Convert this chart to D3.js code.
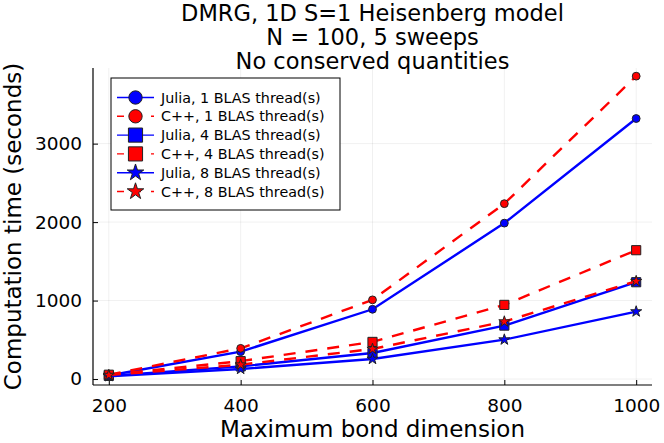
<!DOCTYPE html>
<html>
<head>
<meta charset="utf-8">
<script src="https://cdn.jsdelivr.net/npm/d3@7"></script>
<style>
  html, body { margin: 0; padding: 0; background: #fff; }
  svg { display: block; font-family: "DejaVu Sans", sans-serif; }
</style>
</head>
<body>
<div id="chart"></div>
<script>
const WIDTH = 664, HEIGHT = 443;

// data
const bondDims   = [200, 400, 600, 800, 1000];
const juliaOne   = [45, 349, 889, 1987, 3320];
const cppOne     = [55, 391, 1009, 2235, 3860];
const juliaFour  = [40, 161, 332, 681, 1234];
const cppFour    = [55, 228, 473, 945, 1642];
const juliaEight = [35, 128, 255, 502, 860];
const cppEight   = [50, 183, 383, 732, 1247];
const xTicks = [200, 400, 600, 800, 1000];
const yTicks = [0, 1000, 2000, 3000];
const titleLines = ["DMRG, 1D S=1 Heisenberg model", "N = 100, 5 sweeps", "No conserved quantities"];

const series = [
  { name: "Julia, 1 BLAS thread(s)", values: juliaOne,   color: "#0000ff", dash: null,    sym: "circle" },
  { name: "C++, 1 BLAS thread(s)",   values: cppOne,     color: "#ff0000", dash: "12,10", sym: "circle" },
  { name: "Julia, 4 BLAS thread(s)", values: juliaFour,  color: "#0000ff", dash: null,    sym: "square" },
  { name: "C++, 4 BLAS thread(s)",   values: cppFour,    color: "#ff0000", dash: "12,10", sym: "square" },
  { name: "Julia, 8 BLAS thread(s)", values: juliaEight, color: "#0000ff", dash: null,    sym: "star" },
  { name: "C++, 8 BLAS thread(s)",   values: cppEight,   color: "#ff0000", dash: "12,10", sym: "star" },
];

const M = { left: 93, right: 12, top: 68, bottom: 58 };
const x = d3.scaleLinear().domain([176, 1024]).range([M.left, WIDTH - M.right]);
const y = d3.scaleLinear().domain([-76, 3964]).range([HEIGHT - M.bottom, M.top]);

const svg = d3.select("#chart").append("svg")
  .attr("width", WIDTH).attr("height", HEIGHT);

// grid
const grid = svg.append("g");
grid.selectAll(".gx").data(xTicks).enter().append("line")
  .attr("x1", d => x(d)).attr("x2", d => x(d))
  .attr("y1", M.top).attr("y2", HEIGHT - M.bottom)
  .attr("stroke", "#000").attr("stroke-opacity", 0.1).attr("stroke-width", 0.6);
grid.selectAll(".gy").data(yTicks).enter().append("line")
  .attr("x1", M.left).attr("x2", WIDTH - M.right)
  .attr("y1", d => y(d)).attr("y2", d => y(d))
  .attr("stroke", "#000").attr("stroke-opacity", 0.1).attr("stroke-width", 0.6);

// axes (ticks point inward, like Plots.jl)
const xAxis = svg.append("g")
  .attr("transform", `translate(0,${HEIGHT - M.bottom})`)
  .call(d3.axisBottom(x).tickValues(xTicks).tickFormat(d3.format("d"))
    .tickSizeInner(-5).tickSizeOuter(0).tickPadding(14));
const yAxis = svg.append("g")
  .attr("transform", `translate(${M.left},0)`)
  .call(d3.axisLeft(y).tickValues(yTicks).tickFormat(d3.format("d"))
    .tickSizeInner(-5).tickSizeOuter(0).tickPadding(11));
[xAxis, yAxis].forEach(a => {
  a.select(".domain").attr("stroke", "#000").attr("stroke-width", 1.2);
  a.selectAll(".tick line").attr("stroke", "#000").attr("stroke-width", 1);
  a.selectAll(".tick text").attr("font-family", "DejaVu Sans").attr("font-size", 18.5).attr("fill", "#000");
});
yAxis.select(".domain").attr("d", `M0,${HEIGHT - M.bottom}V${M.top}`);
xAxis.select(".domain").attr("d", `M${M.left},0H${WIDTH - M.right}`);

// series
const line = d3.line().x((d, i) => x(bondDims[i])).y(d => y(d));
const symType = { circle: d3.symbolCircle, square: d3.symbolSquare, star: d3.symbolStar };
const plotSize = { circle: 48, square: 84, star: 38 };
const legendSize = { circle: 140, square: 200, star: 85 };

series.forEach(s => {
  const g = svg.append("g");
  g.append("path").datum(s.values)
    .attr("d", line).attr("fill", "none")
    .attr("stroke", s.color).attr("stroke-width", 2.4)
    .attr("stroke-dasharray", s.dash);
  g.selectAll("path.m").data(s.values).enter().append("path")
    .attr("class", "m")
    .attr("transform", (d, i) => `translate(${x(bondDims[i])},${y(d)})`)
    .attr("d", d3.symbol().type(symType[s.sym]).size(plotSize[s.sym]))
    .attr("fill", s.color).attr("stroke", "#222").attr("stroke-width", 1);
});

// legend
const lg = svg.append("g");
lg.append("rect").attr("x", 111).attr("y", 78).attr("width", 229).attr("height", 132)
  .attr("fill", "#fff").attr("stroke", "#000").attr("stroke-width", 1);
series.forEach((s, i) => {
  const cy = 97.5 + i * 18.8;
  lg.append("line").attr("x1", 117).attr("x2", 154).attr("y1", cy).attr("y2", cy)
    .attr("stroke", s.color).attr("stroke-width", 1.4)
    .attr("stroke-dasharray", s.dash ? "7,10" : null);
  lg.append("path").attr("transform", `translate(135.5,${cy})`)
    .attr("d", d3.symbol().type(symType[s.sym]).size(legendSize[s.sym]))
    .attr("fill", s.color).attr("stroke", "#222").attr("stroke-width", 1);
  lg.append("text").attr("x", 161).attr("y", cy + 5)
    .attr("font-size", 14.3).attr("fill", "#000").text(s.name);
});

// title
svg.append("g").selectAll("text").data(titleLines).enter().append("text")
  .attr("x", (M.left + WIDTH - M.right) / 2).attr("y", (d, i) => 21 + i * 24)
  .attr("text-anchor", "middle").attr("font-size", 22.5).attr("fill", "#000")
  .text(d => d);

// axis labels
svg.append("text").attr("x", (M.left + WIDTH - M.right) / 2).attr("y", 437)
  .attr("text-anchor", "middle").attr("font-size", 23).attr("fill", "#000")
  .text("Maximum bond dimension");
svg.append("text").attr("transform", `translate(21,${(M.top + HEIGHT - M.bottom) / 2}) rotate(-90)`)
  .attr("text-anchor", "middle").attr("font-size", 23).attr("fill", "#000")
  .text("Computation time (seconds)");
</script>
</body>
</html>
